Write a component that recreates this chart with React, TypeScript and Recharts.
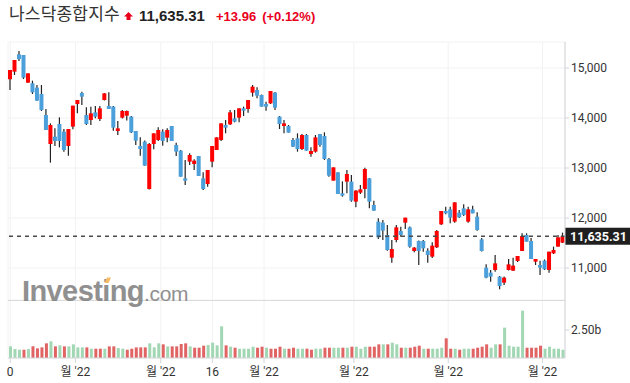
import { ComposedChart, Bar, XAxis, YAxis, CartesianGrid, ReferenceLine, Cell } from 'recharts';

// OHLC, one entry per trading day
const opens = [
  14775, 14927, 15273, 15260, 14707, 14693, 14607, 14480, 14060, 13480,
  13627, 13880, 13727, 13440, 13827, 14280, 14500, 14060, 13960, 14113,
  13980, 14360, 14240, 14227, 13740, 14007, 14047, 14027, 13740, 13440,
  13527, 12580, 13480, 13560, 13727, 13607, 13840, 13460, 13347, 12793,
  13127, 13080, 13240, 12793, 12680, 13127, 13360, 13560, 13860, 13873,
  13993, 14007, 14193, 14180, 14507, 14560, 14460, 14280, 14293, 14507,
  14027, 13840, 13840, 13560, 13593, 13380, 13660, 13280, 13327, 13680,
  13640, 13180, 12747, 12913, 12493, 12727, 12727, 12327, 12507, 12580,
  12793, 12260, 11927, 11907, 11660, 11207, 11560, 11740, 11907, 11813,
  11340, 11540, 11540, 11347, 11227, 11413, 11873, 12140, 12173, 11927,
  12107, 12193, 11927, 12173, 12027, 11573, 11007, 10907, 10960, 10827,
  10707, 10960, 10947, 11140, 11340, 11660, 11540, 11127, 11060, 11147,
  10960, 11293, 11427, 11507,
];
const highs = [
  14960, 15160, 15340, 15260, 14893, 14747, 14660, 14660, 14180, 13893,
  13793, 14013, 13780, 13780, 14247, 14360, 14527, 14213, 14227, 14240,
  14240, 14500, 14513, 14240, 13940, 14160, 14150, 14040, 13740, 13613,
  13550, 13500, 13693, 13813, 13773, 13793, 13840, 13507, 13360, 13160,
  13293, 13173, 13240, 12913, 12960, 13440, 13613, 13893, 13960, 14160,
  14160, 14193, 14227, 14360, 14660, 14613, 14470, 14327, 14540, 14520,
  14040, 13960, 13860, 13600, 13693, 13680, 13680, 13413, 13660, 13680,
  13713, 13200, 13013, 12913, 12733, 12960, 12860, 12560, 12660, 13007,
  12800, 12347, 11993, 11960, 11860, 11560, 11860, 11827, 12007, 11830,
  11420, 11550, 11560, 11393, 11513, 11760, 12140, 12227, 12227, 12313,
  12160, 12273, 12227, 12247, 12113, 11600, 11073, 10960, 11260, 10840,
  10830, 11180, 11207, 11240, 11693, 11693, 11600, 11180, 11147, 11170,
  11327, 11427, 11660, 11707,
];
const lows = [
  14560, 14860, 15140, 14780, 14700, 14480, 14347, 14140, 13760, 13107,
  13440, 13413, 13327, 13247, 13773, 14093, 14260, 13860, 13860, 13993,
  13940, 14350, 14180, 13747, 13660, 13990, 13950, 13700, 13460, 13247,
  13047, 12570, 13373, 13540, 13447, 13513, 13540, 13240, 12827, 12660,
  13060, 12960, 12840, 12560, 12627, 13013, 13360, 13540, 13693, 13860,
  13913, 13913, 14040, 14107, 14427, 14393, 14227, 14147, 14280, 14160,
  13780, 13693, 13707, 13420, 13327, 13360, 13347, 13227, 13307, 13427,
  13160, 12827, 12747, 12480, 12427, 12493, 12327, 12213, 12480, 12393,
  12193, 12147, 11580, 11560, 11347, 11107, 11513, 11627, 11780, 11407,
  11313, 11060, 11327, 11107, 11200, 11400, 11860, 12073, 11893, 11907,
  12000, 12040, 11907, 12093, 11747, 11330, 10793, 10727, 10927, 10573,
  10660, 10950, 10940, 11120, 11340, 11527, 11180, 11060, 10860, 10960,
  10907, 11280, 11427, 11500,
];
const closes = [
  14960, 15160, 15180, 14807, 14893, 14513, 14347, 14160, 13760, 13860,
  13540, 13540, 13360, 13780, 14247, 14360, 14427, 13880, 14093, 14027,
  14193, 14493, 14180, 13807, 13793, 14140, 14140, 13713, 13547, 13380,
  13047, 13480, 13693, 13760, 13540, 13760, 13540, 13327, 12827, 12747,
  13260, 13147, 12840, 12580, 12960, 13440, 13613, 13893, 13807, 14113,
  13927, 14193, 14147, 14360, 14627, 14447, 14227, 14227, 14540, 14207,
  13880, 13893, 13707, 13427, 13380, 13660, 13347, 13340, 13613, 13460,
  13180, 12847, 13013, 12480, 12447, 12880, 12347, 12547, 12573, 12980,
  12327, 12147, 11613, 11747, 11360, 11380, 11813, 11660, 12007, 11427,
  11407, 11340, 11393, 11260, 11447, 11740, 12140, 12093, 12007, 12313,
  12013, 12060, 12173, 12093, 11760, 11340, 10807, 10827, 11093, 10640,
  10807, 11073, 11047, 11240, 11640, 11527, 11180, 11180, 11007, 10973,
  11327, 11360, 11613, 11635.31,
];

// volume in billions, and whether the bar is green (1) or red (0)
const volumes = [
  1.04, 0.8, 0.74, 0.74, 0.8, 1.04, 0.86, 0.95, 1.31, 1.49,
  1.04, 1.13, 1.04, 1.04, 1.22, 0.95, 0.95, 0.95, 0.83, 0.83,
  0.83, 0.83, 1.04, 1.04, 0.89, 0.83, 0.74, 0.83, 0.95, 0.95,
  0.95, 1.31, 0.95, 1.31, 1.22, 1.04, 1.04, 1.04, 1.25, 1.31,
  1.04, 0.92, 0.92, 1.1, 1.16, 1.37, 1.13, 2.83, 1.13, 1.01,
  0.92, 0.83, 0.83, 0.83, 1.01, 0.92, 1.01, 0.92, 0.83, 0.83,
  1.01, 0.83, 0.83, 0.92, 0.83, 0.83, 0.83, 0.74, 0.83, 0.83,
  0.92, 0.92, 0.92, 0.92, 0.92, 0.92, 1.01, 1.01, 0.83, 1.01,
  1.01, 1.01, 1.22, 1.22, 1.22, 1.37, 1.22, 0.92, 0.92, 0.92,
  1.01, 1.1, 0.83, 0.83, 0.83, 0.83, 0.92, 1.76, 0.83, 0.83,
  0.74, 0.83, 0.83, 0.83, 0.92, 1.01, 1.22, 0.92, 1.22, 1.22,
  2.71, 1.1, 1.01, 1.01, 4.23, 0.92, 0.92, 0.92, 1.1, 0.83,
  1.01, 0.83, 0.83, 0.74,
];
const volumeUp = [
  1, 1, 1, 0, 1, 0, 0, 0, 0, 1,
  0, 1, 0, 1, 1, 1, 1, 0, 1, 0,
  0, 1, 0, 0, 1, 1, 0, 0, 0, 0,
  0, 1, 1, 1, 0, 1, 0, 0, 0, 0,
  1, 0, 0, 0, 1, 1, 1, 1, 0, 1,
  0, 1, 1, 1, 1, 0, 0, 1, 0, 0,
  0, 1, 0, 0, 1, 1, 0, 0, 1, 1,
  0, 0, 1, 1, 0, 1, 0, 1, 1, 1,
  0, 0, 0, 1, 0, 1, 1, 0, 1, 0,
  0, 0, 1, 0, 1, 1, 1, 0, 0, 1,
  0, 1, 1, 0, 0, 0, 0, 1, 1, 0,
  1, 1, 1, 1, 1, 0, 0, 0, 0, 1,
  1, 1, 1, 1,
];

const xTicks = [0, 14.5, 33.5, 45, 56.5, 76.5, 97.5, 118.5];
const xTickLabels = ['0', "월 '22", "월 '22", '16', "월 '22", "월 '22", "월 '22", "월 '22"];
const priceTicks = [11000, 12000, 13000, 14000, 15000];
const priceDomain = [10360, 15520];
const volTicks = [2.5];
const volDomain = [0, 5.18];
const lastPrice = 11635.31;
const change = '+13.96';
const changePct = '(+0.12%)';
const title = '나스닥종합지수';

const UP = '#ff0000';
const DOWN = '#4b9fdb';
const VOL_UP = '#a2d7b3';
const VOL_DOWN = '#e06464';
const GRID = '#f2f2f4';
const AXIS = '#d4d4da';
const FONT = "Roboto, 'Noto Sans CJK KR', Arial, sans-serif";

const data = opens.map((o, i) => ({
  i,
  open: o,
  high: highs[i],
  low: lows[i],
  close: closes[i],
  range: [lows[i], highs[i]],
  volume: volumes[i],
  volUp: volumeUp[i] === 1,
}));

const fmtPrice = (v: number) => v.toLocaleString('en-US', { maximumFractionDigits: 2 });

function Candle(props: any) {
  const { x, y, width, height, payload } = props;
  if (!payload) return null;
  const { open, close, high, low } = payload;
  const ratio = height / (high - low || 1);
  const top = y + (high - Math.max(open, close)) * ratio;
  const bodyH = Math.max(Math.abs(close - open) * ratio, 1.5);
  const cx = x + width / 2;
  return (
    <g>
      <line x1={cx} x2={cx} y1={y} y2={y + height} stroke="#222" strokeWidth={1.2} />
      <rect x={x} y={top} width={width} height={bodyH} fill={close >= open ? UP : DOWN} />
    </g>
  );
}

function PriceTag(props: any) {
  const { viewBox } = props;
  if (!viewBox) return null;
  const x = viewBox.x + viewBox.width;
  const y = viewBox.y;
  return (
    <g>
      <rect x={x} y={y - 8.5} width={66} height={17} fill="#1f1f1f" />
      <text x={x + 5} y={y + 4.5} fill="#fff" fontSize={12.5} fontWeight={700} fontFamily={FONT}>
        {fmtPrice(lastPrice)}
      </text>
    </g>
  );
}

export default function App() {
  const xDomain = [-0.5, data.length - 0.5];
  return (
    <div style={{ position: 'absolute', left: 0, top: 0, width: 630, height: 383, background: '#fff', fontFamily: FONT }}>
      <div style={{ position: 'absolute', left: 0, top: 0 }}>
        <ComposedChart width={630} height={300} data={data} margin={{ top: 42, right: 0, bottom: 0, left: 8 }}>
          <CartesianGrid stroke={GRID} />
          <XAxis type="number" dataKey="i" domain={xDomain} ticks={xTicks} allowDataOverflow hide />
          <YAxis
            orientation="right"
            width={65}
            domain={priceDomain}
            ticks={priceTicks}
            allowDataOverflow
            tickFormatter={fmtPrice}
            tick={{ fill: '#333', fontSize: 12, fontFamily: FONT }}
            tickSize={4}
            tickLine={{ stroke: AXIS }}
            axisLine={{ stroke: AXIS }}
          />
          <ReferenceLine y={lastPrice} stroke="#4a4a4a" strokeWidth={1.3} strokeDasharray="4 4" label={<PriceTag />} />
          <Bar dataKey="range" barSize={4} shape={<Candle />} isAnimationActive={false} />
        </ComposedChart>
      </div>
      <div style={{ position: 'absolute', left: 0, top: 300 }}>
        <ComposedChart width={630} height={83} data={data} margin={{ top: 0, right: 0, bottom: 0, left: 8 }}>
          <CartesianGrid stroke={GRID} horizontal={false} />
          <XAxis
            type="number"
            dataKey="i"
            domain={xDomain}
            ticks={xTicks}
            interval={0}
            allowDataOverflow
            height={25}
            tickFormatter={(v: number) => xTickLabels[xTicks.indexOf(v)]}
            tick={{ fill: '#333', fontSize: 12, fontFamily: FONT }}
            tickSize={5}
            tickMargin={4}
            tickLine={{ stroke: AXIS }}
            axisLine={{ stroke: AXIS }}
          />
          <YAxis
            orientation="right"
            width={65}
            domain={volDomain}
            ticks={volTicks}
            allowDataOverflow
            tickFormatter={(v: number) => `${v.toFixed(2)}b`}
            tick={{ fill: '#333', fontSize: 12, fontFamily: FONT }}
            tickSize={4}
            tickLine={{ stroke: AXIS }}
            axisLine={{ stroke: AXIS }}
          />
          <ReferenceLine y={volDomain[1]} stroke="#cfcfcf" strokeWidth={1.5} />
          <Bar dataKey="volume" barSize={3} isAnimationActive={false}>
            {data.map((d) => (
              <Cell key={d.i} fill={d.volUp ? VOL_UP : VOL_DOWN} />
            ))}
          </Bar>
        </ComposedChart>
      </div>
      <svg width={630} height={383} style={{ position: 'absolute', left: 0, top: 0, pointerEvents: 'none' }}>
        <text x={9} y={19.5} fontSize={17} letterSpacing={0.2} fill="#333" fontFamily="'Noto Sans CJK KR', sans-serif">
          {title}
        </text>
        <path d="M128.5 12 L133 16.5 L130.5 16.5 L130.5 20 L126.5 20 L126.5 16.5 L124 16.5 Z" fill="#e8001c" />
        <text x={139} y={20.5} fontSize={15} fontWeight={700} fill="#222" fontFamily="'Liberation Sans', Arial, sans-serif">
          {fmtPrice(lastPrice)}
        </text>
        <text x={216} y={20.5} fontSize={13} fontWeight={700} fill="#e8001c" fontFamily="'Liberation Sans', Arial, sans-serif">
          {change}
          <tspan dx={6}>{changePct}</tspan>
        </text>
        <g opacity={0.85}>
          <text x={22} y={301} fontSize={29} fontWeight={700} fill="#7d7d7d" letterSpacing={-0.6} fontFamily="'Liberation Sans', Arial, sans-serif">
            Investing
            <tspan fontSize={21} fontWeight={400} letterSpacing={-0.3}>.com</tspan>
          </text>
          <path d="M104.5 283 L107 277.5 L111 277.5 L108.5 283 Z" fill="#f6b04a" />
        </g>
      </svg>
    </div>
  );
}
